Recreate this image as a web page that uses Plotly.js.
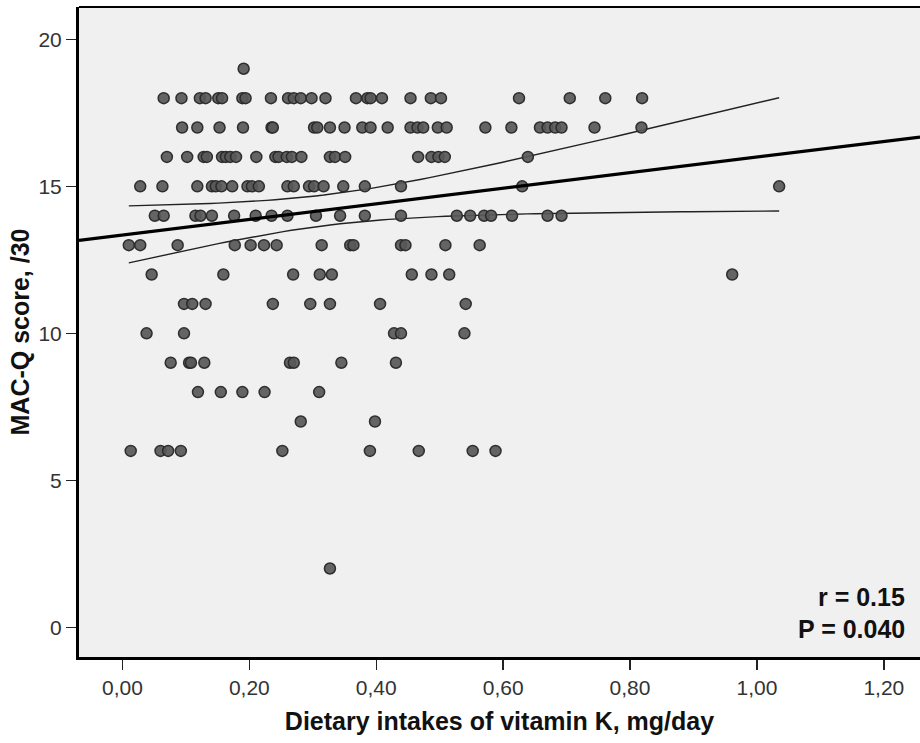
<!DOCTYPE html>
<html>
<head>
<meta charset="utf-8">
<script src="https://cdn.plot.ly/plotly-3.0.1.min.js"></script>
<style>html,body{margin:0;padding:0;background:#fff;}#chart{width:920px;height:743px;}</style>
</head>
<body>
<div id="chart"></div>
<script>
// MAC-Q score rows (score -> vitamin K intakes, mg/day)
const score19 = [0.191];
const score18 = [0.065,0.093,0.122,0.131,0.151,0.157,0.189,0.194,0.234,0.261,0.270,0.281,0.298,0.320,0.368,0.386,0.391,0.409,0.454,0.486,0.502,0.625,0.705,0.761,0.819];
const score17 = [0.094,0.118,0.153,0.190,0.235,0.237,0.302,0.307,0.327,0.350,0.378,0.391,0.418,0.454,0.465,0.474,0.497,0.511,0.572,0.613,0.658,0.670,0.682,0.692,0.744,0.818];
const score16 = [0.070,0.102,0.128,0.133,0.157,0.163,0.170,0.179,0.211,0.241,0.246,0.259,0.267,0.282,0.327,0.335,0.351,0.466,0.487,0.498,0.508,0.639];
const score15 = [0.028,0.063,0.118,0.141,0.147,0.156,0.173,0.197,0.204,0.215,0.260,0.270,0.294,0.302,0.317,0.348,0.382,0.439,0.630,1.035];
const score14 = [0.051,0.065,0.115,0.123,0.141,0.176,0.210,0.235,0.260,0.305,0.343,0.382,0.439,0.527,0.548,0.570,0.581,0.614,0.670,0.692];
const score13 = [0.010,0.028,0.087,0.177,0.202,0.223,0.243,0.314,0.359,0.364,0.439,0.446,0.509,0.563];
const score12 = [0.046,0.159,0.269,0.311,0.330,0.456,0.487,0.515,0.961];
const score11 = [0.097,0.110,0.131,0.237,0.296,0.327,0.406,0.541];
const score10 = [0.038,0.097,0.428,0.439,0.539];
const score9  = [0.076,0.105,0.108,0.129,0.264,0.270,0.345,0.431];
const score8  = [0.119,0.155,0.189,0.224,0.310];
const score7  = [0.281,0.398];
const score6  = [0.013,0.060,0.072,0.092,0.252,0.390,0.467,0.552,0.588];
const score2  = [0.327];

const rows = [[19,score19],[18,score18],[17,score17],[16,score16],[15,score15],[14,score14],[13,score13],[12,score12],[11,score11],[10,score10],[9,score9],[8,score8],[7,score7],[6,score6],[2,score2]];

// fitted line (intercept, slope)
const fitIntercept = 13.34;
const fitSlope = 2.655;

const xTickVals = [0,0.2,0.4,0.6,0.8,1.0,1.2];
const xTickText = ['0,00','0,20','0,40','0,60','0,80','1,00','1,20'];
const yTickVals = [0,5,10,15,20];
const statR = 'r = 0.15';
const statP = 'P = 0.040';

const xs = [], ys = [];
rows.forEach(([s, arr]) => arr.forEach(v => { xs.push(v); ys.push(s); }));

// 95% CI of the mean around the fitted line
const n = xs.length;
const xbar = xs.reduce((a,b)=>a+b,0)/n;
let sxx=0;
for (let i=0;i<n;i++){ sxx += (xs[i]-xbar)**2; }
let sse=0; for (let i=0;i<n;i++){ sse += (ys[i]-fitIntercept-fitSlope*xs[i])**2; }
const s = Math.sqrt(sse/(n-2));
const tcrit = 1.974;
const xmin = Math.min(...xs), xmax = Math.max(...xs);
const xRange = [-0.0685, 1.257];
const bx=[], bu=[], bl=[];
const steps = 80;
for (let k=0;k<=steps;k++){
  const x = xmin + (xmax-xmin)*k/steps;
  const yh = fitIntercept + fitSlope*x;
  const h = tcrit*s*Math.sqrt(1/n + (x-xbar)**2/sxx);
  bx.push(x); bu.push(yh+h); bl.push(yh-h);
}

const font = 'Liberation Sans, Arial, sans-serif';
const traces = [
  {x: bx, y: bu, mode:'lines', line:{color:'#222', width:1.4}, hoverinfo:'skip'},
  {x: bx, y: bl, mode:'lines', line:{color:'#222', width:1.4}, hoverinfo:'skip'},
  {x: xs, y: ys, mode:'markers', marker:{size:11, color:'rgba(88,88,88,0.92)', line:{color:'rgba(40,40,40,0.95)', width:1.5}}},
  {x: xRange, y: xRange.map(x=>fitIntercept+fitSlope*x), mode:'lines', line:{color:'#000', width:3.2}, hoverinfo:'skip'}
];

const layout = {
  width: 920, height: 743,
  margin: {l:79, r:0, t:7, b:86},
  paper_bgcolor: '#ffffff',
  plot_bgcolor: '#f0f0f0',
  showlegend: false,
  font: {family: font, color:'#222'},
  xaxis: {
    range: xRange, tickvals: xTickVals, ticktext: xTickText,
    ticks:'outside', ticklen:10, tickwidth:1.5, tickcolor:'#222',
    showline:true, linewidth:3, linecolor:'#000',
    showgrid:false, zeroline:false,
    tickfont:{size:21, color:'#333', family: font},
    title:{text:'<b>Dietary intakes of vitamin K, mg/day</b>', font:{size:25, color:'#111', family: font}, standoff:15}
  },
  yaxis: {
    range: [-1.01, 21.1], tickvals: yTickVals,
    ticks:'outside', ticklen:10, tickwidth:1.5, tickcolor:'#222',
    showline:true, linewidth:3, linecolor:'#000',
    showgrid:false, zeroline:false,
    tickfont:{size:21, color:'#333', family: font},
    title:{text:'<b>MAC-Q score, /30</b>', font:{size:25, color:'#111', family: font}, standoff:2}
  },
  shapes: [
    {type:'line', xref:'paper', yref:'paper', x0:0, x1:1, y0:1, y1:1, line:{color:'#000', width:2}}
  ],
  annotations: [
    {xref:'paper', yref:'y', x:0.9845, y:1.03, text:'<b>'+statR+'</b>', showarrow:false, xanchor:'right', yanchor:'middle', font:{size:25, color:'#111', family: font}},
    {xref:'paper', yref:'y', x:0.9845, y:-0.06, text:'<b>'+statP+'</b>', showarrow:false, xanchor:'right', yanchor:'middle', font:{size:25, color:'#111', family: font}}
  ]
};

Plotly.newPlot('chart', traces, layout, {staticPlot:true, displayModeBar:false});
</script>
</body>
</html>
